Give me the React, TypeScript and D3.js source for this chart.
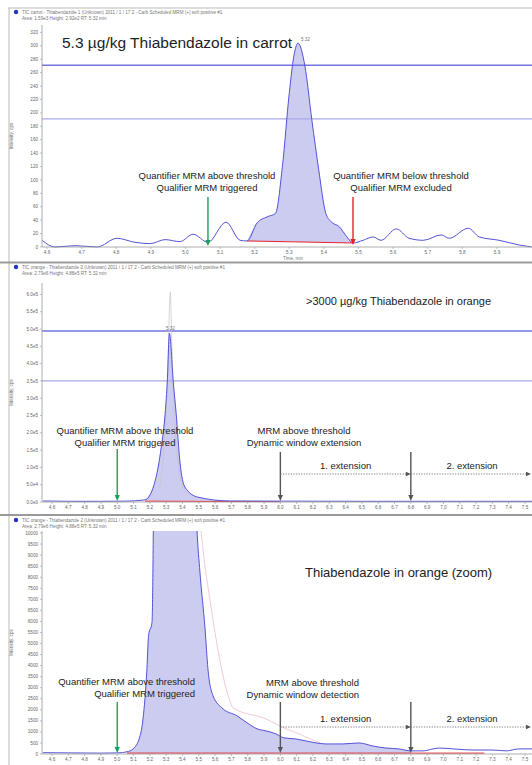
import React from 'react'
import * as d3 from 'd3'

const FONT = 'Arial, "Liberation Sans", Helvetica, sans-serif'
const BLUE = '#5252d8'
const FILL = '#c7c7f0'
const GREEN = '#17a05a'
const RED = '#e8202a'
const DARK = '#555'
const AX = 42
const RIGHT = 532

// ---- panel 1: carrot, 5.3 ug/kg ----
const carrotTime = [4.586, 4.623, 4.681, 4.745, 4.802, 4.854, 4.898, 4.941, 4.984, 5.022, 5.065, 5.117, 5.158, 5.178, 5.207, 5.236, 5.26, 5.28, 5.30, 5.315, 5.325, 5.345, 5.365, 5.385, 5.405, 5.42, 5.445, 5.465, 5.484, 5.513, 5.542, 5.565, 5.609, 5.646, 5.687, 5.739, 5.762, 5.817, 5.849, 5.906, 5.964, 6.0]
const carrotIntensity = [10, 0, 2, 0, 13, 7, 5, 11, 8, 19, 7, 37, 10, 9, 36, 45, 50, 120, 230, 290, 304, 270, 190, 115, 51, 38, 30, 16, 6, 10, 15, 10, 27, 13, 10, 18, 13, 28, 15, 10, 3, 0]
const carrotPeak = [5.178, 5.484]
const carrotPeakBase = [9, 6]
const carrotThresholds = [271, 191]
const carrotXTicks = [4.6, 4.7, 4.8, 4.9, 5.0, 5.1, 5.2, 5.3, 5.4, 5.5, 5.6, 5.7, 5.8, 5.9]
const carrotYTicks = [0, 20, 40, 60, 80, 100, 120, 140, 160, 180, 200, 220, 240, 260, 280, 300, 320]
const carrotTrigger = 5.065
const carrotExclude = 5.484

// ---- panel 2: orange, >3000 ug/kg ----
const orangeTime = [4.545, 4.7, 4.9, 5.05, 5.17, 5.234, 5.27, 5.294, 5.307, 5.32, 5.343, 5.361, 5.385, 5.415, 5.494, 5.69, 6.0, 6.5, 7.0, 7.545]
const orangeIntensity = [3000, 2000, 2000, 2500, 6000, 64000, 159000, 257000, 350000, 488000, 350000, 257000, 113000, 43000, 14000, 3000, 2500, 2000, 2000, 2000]
const orangeQualTime = [5.26, 5.29, 5.31, 5.325, 5.335, 5.35, 5.38, 5.42]
const orangeQualIntensity = [40000, 180000, 380000, 607000, 450000, 250000, 90000, 30000]
const orangePeak = [5.17, 6.0]
const orangePeakBase = [4000, 2500]
const orangeThresholds = [494000, 350000]
const orangeYTicks = [0, 50000, 100000, 150000, 200000, 250000, 300000, 350000, 400000, 450000, 500000, 550000, 600000]

// ---- panel 3: orange, zoomed ----
const zoomTime = [4.545, 4.7, 4.894, 5.005, 5.06, 5.097, 5.14, 5.158, 5.182, 5.192, 5.213, 5.222, 5.27, 5.32, 5.36, 5.415, 5.45, 5.489, 5.507, 5.538, 5.556, 5.587, 5.648, 5.734, 5.796, 5.857, 5.912, 5.973, 6.022, 6.096, 6.219, 6.28, 6.384, 6.482, 6.568, 6.648, 6.727, 6.801, 6.875, 6.936, 6.973, 7.059, 7.181, 7.304, 7.384, 7.463, 7.545]
const zoomIntensity = [60, 50, 40, 50, 100, 230, 820, 1590, 3860, 5360, 5950, 11000, 159000, 488000, 257000, 43000, 20000, 10140, 8230, 5700, 3860, 2640, 2050, 1730, 1410, 1140, 1045, 910, 730, 680, 500, 455, 455, 500, 360, 270, 230, 140, 140, 230, 270, 230, 180, 180, 140, 230, 230]
const zoomQualTime = [5.42, 5.47, 5.5, 5.52, 5.569, 5.691, 5.71, 5.912, 6.035, 6.114, 6.243]
const zoomQualIntensity = [60000, 20000, 11500, 9680, 6950, 2410, 2090, 1590, 1140, 910, 500]
const zoomPeak = [5.06, 6.8]
const zoomPeakBase = [40, 40]
const zoomRedLine = [5.06, 7.25]
const zoomYTicks = [0, 500, 1000, 1500, 2000, 2500, 3000, 3500, 4000, 4500, 5000, 5500, 6000, 6500, 7000, 7500, 8000, 8500, 9000, 9500, 10000]

const orangeXTicks = [4.6, 4.7, 4.8, 4.9, 5.0, 5.1, 5.2, 5.3, 5.4, 5.5, 5.6, 5.7, 5.8, 5.9, 6.0, 6.1, 6.2, 6.3, 6.4, 6.5, 6.6, 6.7, 6.8, 6.9, 7.0, 7.1, 7.2, 7.3, 7.4, 7.5]
const orangeTrigger = 5.0
const windowBounds = [6.0, 6.8]

type Scale = d3.ScaleLinear<number, number>
type Pt = [number, number]

const pairs = (t: number[], v: number[]) => t.map((d, i) => [d, v[i]] as Pt)

function Trace(props: { x: Scale, y: Scale, time: number[], values: number[], stroke: string, width: number, opacity?: number }) {
    const gen = d3.line<Pt>().x(d => props.x(d[0])).y(d => props.y(d[1])).curve(d3.curveMonotoneX)
    return <path d={gen(pairs(props.time, props.values)) ?? ''} fill='none' stroke={props.stroke}
        strokeWidth={props.width} opacity={props.opacity ?? 1} />
}

function PeakFill(props: { x: Scale, y: Scale, time: number[], values: number[], range: number[], base: number[] }) {
    const { x, y, time, values, range, base } = props
    const at = d3.scaleLinear().domain(time).range(values)
    const b = d3.scaleLinear().domain(range).range(base)
    const pts: Pt[] = [[range[0], at(range[0])],
    ...pairs(time, values).filter(d => d[0] > range[0] && d[0] < range[1]),
    [range[1], at(range[1])]]
    const gen = d3.area<Pt>().x(d => x(d[0])).y0(d => y(b(d[0]))).y1(d => y(d[1])).curve(d3.curveMonotoneX)
    return <path d={gen(pts) ?? ''} fill={FILL} opacity={0.9} />
}

function Axes(props: { x: Scale, y: Scale, top: number, base: number, xTicks: number[], yTicks: number[], yFmt: (v: number) => string }) {
    const { x, y, top, base } = props
    return (
        <g fontSize={4.6} fill='#666'>
            <line x1={AX} x2={RIGHT} y1={base} y2={base} stroke='#999' strokeWidth={0.8} />
            <line x1={AX} x2={AX} y1={top} y2={base} stroke='#999' strokeWidth={0.8} />
            {props.xTicks.map(t => (
                <g key={t}>
                    <line x1={x(t)} x2={x(t)} y1={base} y2={base + 2} stroke='#999' strokeWidth={0.6} />
                    <text x={x(t)} y={base + 6.5} textAnchor='middle'>{t.toFixed(1)}</text>
                </g>
            ))}
            {props.yTicks.map(v => (
                <g key={v}>
                    <line x1={AX - 2} x2={AX} y1={y(v)} y2={y(v)} stroke='#999' strokeWidth={0.6} />
                    <text x={AX - 4} y={y(v) + 1.6} textAnchor='end'>{props.yFmt(v)}</text>
                </g>
            ))}
            <text transform={`translate(13,${(top + base) / 2}) rotate(-90)`} textAnchor='middle'>Intensity, cps</text>
        </g>
    )
}

function Header(props: { y: number, line1: string, line2: string }) {
    return (
        <g fontSize={4.6} fill='#777'>
            <circle cx={16} cy={props.y} r={2.2} fill='#2233cc' />
            <text x={22} y={props.y + 2}>{props.line1}</text>
            <text x={22} y={props.y + 8}>{props.line2}</text>
        </g>
    )
}

function VArrow(props: { x: number, y1: number, y2: number, color: string }) {
    const { x, y1, y2, color } = props
    return (
        <g>
            <line x1={x} x2={x} y1={y1} y2={y2 - 5} stroke={color} strokeWidth={1.4} />
            <path d={`M${x - 2.6},${y2 - 6}L${x + 2.6},${y2 - 6}L${x},${y2}Z`} fill={color} />
        </g>
    )
}

function HArrow(props: { x1: number, x2: number, y: number }) {
    const { x1, x2, y } = props
    return (
        <g>
            <line x1={x1} x2={x2 - 4} y1={y} y2={y} stroke='#777' strokeWidth={0.9} strokeDasharray='1.3,1.3' />
            <path d={`M${x2 - 5},${y - 2.2}L${x2},${y}L${x2 - 5},${y + 2.2}Z`} fill={DARK} />
        </g>
    )
}

function TwoLines(props: { x: number, y: number, lines: string[], anchor: string }) {
    return (
        <text fontSize={9.5} fill='#222' textAnchor={props.anchor}>
            {props.lines.map((l, i) => <tspan key={i} x={props.x} y={props.y + i * 12}>{l}</tspan>)}
        </text>
    )
}

const expFmt = (v: number) => v === 0 ? '0.0e0' : v.toExponential(1).replace('e+', 'e')

export default function App() {
    // panel scales
    const x1 = d3.scaleLinear().domain([4.6, 5.9]).range([47, 497])
    const y1 = d3.scaleLinear().domain([0, 331]).range([247, 25])
    const x2 = d3.scaleLinear().domain([4.6, 7.5]).range([52, 525])
    const y2 = d3.scaleLinear().domain([0, 633000]).range([502, 283])
    const y3 = d3.scaleLinear().domain([0, 10090]).range([754, 531])

    const apex1 = carrotTime[d3.maxIndex(carrotIntensity)]
    const apex2 = orangeTime[d3.maxIndex(orangeIntensity)]

    const hdr1 = 'TIC carrot - Thiabendazole 1 (Unknown) 2011 / 1 / 17 2 - Carb Scheduled MRM (+) soft positive #1'
    const hdr2 = 'TIC orange - Thiabendazole 2 (Unknown) 2011 / 1 / 17 2 - Carb Scheduled MRM (+) soft positive #1'

    return (
        <svg width={532} height={765} style={{ position: 'absolute', left: 0, top: 0, background: '#fff' }} fontFamily={FONT}>
            <defs>
                <clipPath id='c1'><rect x={AX} y={25} width={RIGHT - AX} height={223} /></clipPath>
                <clipPath id='c2'><rect x={AX} y={283} width={RIGHT - AX} height={220} /></clipPath>
                <clipPath id='c3'><rect x={AX} y={531} width={RIGHT - AX} height={224} /></clipPath>
            </defs>

            {/* frames */}
            <line x1={8} x2={RIGHT} y1={8} y2={8} stroke='#bbb' strokeWidth={1} />
            <line x1={9} x2={9} y1={8} y2={765} stroke='#bbb' strokeWidth={1} />
            <rect x={0} y={261.5} width={RIGHT} height={2} fill='#999' />
            <rect x={0} y={514} width={RIGHT} height={2} fill='#999' />

            {/* ---------- panel 1 ---------- */}
            <Header y={12} line1={hdr1} line2='Area: 1.59e3  Height: 2.92e2  RT: 5.32 min' />
            <g clipPath='url(#c1)'>
                <PeakFill x={x1} y={y1} time={carrotTime} values={carrotIntensity} range={carrotPeak} base={carrotPeakBase} />
                {carrotThresholds.map((v, i) => (
                    <line key={v} x1={AX} x2={RIGHT} y1={y1(v)} y2={y1(v)} stroke={i === 0 ? '#7474e0' : '#a8a8e8'} strokeWidth={i === 0 ? 1.5 : 1.2} />
                ))}
                <line x1={x1(carrotPeak[0])} x2={x1(carrotPeak[1])} y1={y1(carrotPeakBase[0])} y2={y1(carrotPeakBase[1])} stroke={RED} strokeWidth={1} />
                <Trace x={x1} y={y1} time={carrotTime} values={carrotIntensity} stroke={BLUE} width={1} />
            </g>
            <Axes x={x1} y={y1} top={25} base={247} xTicks={carrotXTicks} yTicks={carrotYTicks} yFmt={v => String(v)} />
            <text x={x1(apex1) + 3} y={y1(d3.max(carrotIntensity) ?? 0) - 2} fontSize={4.6} fill='#777'>5.32</text>
            <text x={293} y={260} fontSize={4.6} fill='#777' textAnchor='middle'>Time, min</text>
            <text x={62} y={48} fontSize={15.5} fill='#222'>5.3 µg/kg Thiabendazole in carrot</text>
            <TwoLines x={207} y={179} anchor='middle' lines={['Quantifier MRM above threshold', 'Qualifier MRM triggered']} />
            <VArrow x={x1(carrotTrigger)} y1={197} y2={246} color={GREEN} />
            <TwoLines x={401} y={179} anchor='middle' lines={['Quantifier MRM below threshold', 'Qualifier MRM excluded']} />
            <VArrow x={x1(carrotExclude)} y1={197} y2={245} color={RED} />

            {/* ---------- panel 2 ---------- */}
            <Header y={267} line1={hdr2} line2='Area: 2.79e6  Height: 4.88e5  RT: 5.32 min' />
            <g clipPath='url(#c2)'>
                <PeakFill x={x2} y={y2} time={orangeTime} values={orangeIntensity} range={orangePeak} base={orangePeakBase} />
                {orangeThresholds.map((v, i) => (
                    <line key={v} x1={AX} x2={RIGHT} y1={y2(v)} y2={y2(v)} stroke={i === 0 ? '#7474e0' : '#a8a8e8'} strokeWidth={i === 0 ? 1.5 : 1.2} />
                ))}
                <line x1={x2(orangePeak[0])} x2={x2(orangePeak[1])} y1={y2(orangePeakBase[0]) + 0.5} y2={y2(orangePeakBase[1]) + 0.5} stroke={RED} strokeWidth={1} />
                <Trace x={x2} y={y2} time={orangeQualTime} values={orangeQualIntensity} stroke='#c4c4c4' width={0.7} />
                <Trace x={x2} y={y2} time={orangeTime} values={orangeIntensity} stroke={BLUE} width={1} />
            </g>
            <Axes x={x2} y={y2} top={283} base={502} xTicks={orangeXTicks} yTicks={orangeYTicks} yFmt={expFmt} />
            <text x={x2(apex2) + 1} y={y2(d3.max(orangeIntensity) ?? 0) - 3} fontSize={4.6} fill='#777' textAnchor='middle'>5.32</text>
            <text x={306} y={305} fontSize={11} fill='#222'>&gt;3000 µg/kg Thiabendazole in orange</text>
            <TwoLines x={125} y={434} anchor='middle' lines={['Quantifier MRM above threshold', 'Qualifier MRM triggered']} />
            <VArrow x={x2(orangeTrigger)} y1={449} y2={501} color={GREEN} />
            <TwoLines x={304} y={434} anchor='middle' lines={['MRM above threshold', 'Dynamic window extension']} />
            {windowBounds.map(t => <VArrow key={t} x={x2(t)} y1={452} y2={501} color={DARK} />)}
            <HArrow x1={x2(windowBounds[0])} x2={x2(windowBounds[1])} y={474} />
            <HArrow x1={x2(windowBounds[1])} x2={RIGHT - 1} y={474} />
            <text x={(x2(windowBounds[0]) + x2(windowBounds[1])) / 2} y={469} fontSize={9.5} fill='#222' textAnchor='middle'>1. extension</text>
            <text x={472} y={469} fontSize={9.5} fill='#222' textAnchor='middle'>2. extension</text>

            {/* ---------- panel 3 ---------- */}
            <Header y={520} line1={hdr2} line2='Area: 2.79e6  Height: 4.88e5  RT: 5.32 min' />
            <g clipPath='url(#c3)'>
                <PeakFill x={x2} y={y3} time={zoomTime} values={zoomIntensity} range={zoomPeak} base={zoomPeakBase} />
                <line x1={x2(zoomRedLine[0])} x2={x2(zoomRedLine[1])} y1={y3(zoomPeakBase[0])} y2={y3(zoomPeakBase[1])} stroke={RED} strokeWidth={1} />
                <Trace x={x2} y={y3} time={zoomQualTime} values={zoomQualIntensity} stroke='#f0c4cf' width={0.9} />
                <Trace x={x2} y={y3} time={zoomTime} values={zoomIntensity} stroke={BLUE} width={1} />
            </g>
            <Axes x={x2} y={y3} top={531} base={754} xTicks={orangeXTicks} yTicks={zoomYTicks} yFmt={v => String(v)} />
            <text x={305} y={577} fontSize={13} fill='#222'>Thiabendazole in orange (zoom)</text>
            <TwoLines x={195} y={685} anchor='end' lines={['Quantifier MRM above threshold', 'Qualifier MRM triggered']} />
            <VArrow x={x2(orangeTrigger)} y1={702} y2={753} color={GREEN} />
            <TwoLines x={359} y={686} anchor='end' lines={['MRM above threshold', 'Dynamic window detection']} />
            {windowBounds.map(t => <VArrow key={t} x={x2(t)} y1={702} y2={753} color={DARK} />)}
            <HArrow x1={x2(windowBounds[0])} x2={x2(windowBounds[1])} y={727} />
            <HArrow x1={x2(windowBounds[1])} x2={RIGHT - 1} y={727} />
            <text x={(x2(windowBounds[0]) + x2(windowBounds[1])) / 2} y={722} fontSize={9.5} fill='#222' textAnchor='middle'>1. extension</text>
            <text x={472} y={722} fontSize={9.5} fill='#222' textAnchor='middle'>2. extension</text>
        </svg>
    )
}
